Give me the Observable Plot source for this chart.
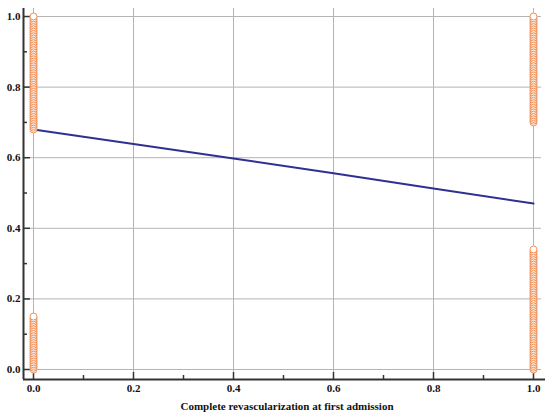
<!DOCTYPE html>
<html>
<head>
<meta charset="utf-8">
<script src="https://cdn.jsdelivr.net/npm/d3@7"></script>
<script src="https://cdn.jsdelivr.net/npm/@observablehq/plot@0.6"></script>
<style>
  html, body { margin: 0; padding: 0; background: #fff; }
</style>
</head>
<body>
<div id="chart"></div>
<script>
// Observed outcomes at x = 0 (incomplete revascularization)
const obsX0Upper = [0.68,0.685,0.69,0.695,0.70,0.705,0.71,0.715,0.72,0.725,0.73,0.735,0.74,0.745,0.75,0.755,0.76,0.765,0.77,0.775,0.78,0.785,0.79,0.795,0.80,0.805,0.81,0.815,0.82,0.825,0.83,0.835,0.84,0.845,0.85,0.855,0.86,0.865,0.87,0.875,0.88,0.885,0.89,0.895,0.90,0.905,0.91,0.915,0.92,0.925,0.93,0.935,0.94,0.945,0.95,0.955,0.96,0.965,0.97,0.975,0.98,0.985,0.99,0.995,1.0];
const obsX0Lower = [0,0.005,0.01,0.015,0.02,0.025,0.03,0.035,0.04,0.045,0.05,0.055,0.06,0.065,0.07,0.075,0.08,0.085,0.09,0.095,0.10,0.105,0.11,0.115,0.12,0.125,0.13,0.135,0.14,0.145,0.15];
// Observed outcomes at x = 1 (complete revascularization)
const obsX1Upper = [0.70,0.705,0.71,0.715,0.72,0.725,0.73,0.735,0.74,0.745,0.75,0.755,0.76,0.765,0.77,0.775,0.78,0.785,0.79,0.795,0.80,0.805,0.81,0.815,0.82,0.825,0.83,0.835,0.84,0.845,0.85,0.855,0.86,0.865,0.87,0.875,0.88,0.885,0.89,0.895,0.90,0.905,0.91,0.915,0.92,0.925,0.93,0.935,0.94,0.945,0.95,0.955,0.96,0.965,0.97,0.975,0.98,0.985,0.99,0.995,1.0];
const obsX1Lower = [0,0.005,0.01,0.015,0.02,0.025,0.03,0.035,0.04,0.045,0.05,0.055,0.06,0.065,0.07,0.075,0.08,0.085,0.09,0.095,0.10,0.105,0.11,0.115,0.12,0.125,0.13,0.135,0.14,0.145,0.15,0.155,0.16,0.165,0.17,0.175,0.18,0.185,0.19,0.195,0.20,0.205,0.21,0.215,0.22,0.225,0.23,0.235,0.24,0.245,0.25,0.255,0.26,0.265,0.27,0.275,0.28,0.285,0.29,0.295,0.30,0.305,0.31,0.315,0.32,0.325,0.33,0.335,0.34];

// Fitted regression line
const fitX = [0, 0.2, 0.4, 0.6, 0.8, 1.0];
const fitY = [0.68, 0.639, 0.598, 0.556, 0.513, 0.47];

// Tick values
const majorTicks = [0, 0.2, 0.4, 0.6, 0.8, 1.0];
const minorTicks = [0.1, 0.3, 0.5, 0.7, 0.9];

const xLabel = "Complete revascularization at first admission";

const points = [
  ...obsX0Upper.map(y => ({x: 0, y})),
  ...obsX0Lower.map(y => ({x: 0, y})),
  ...obsX1Upper.map(y => ({x: 1, y})),
  ...obsX1Lower.map(y => ({x: 1, y}))
];
const fit = fitX.map((x, i) => ({x, y: fitY[i]}));

const xMin = -0.02, xMax = 1.034;
const yMin = -0.0283, yMax = 1.0227;

const gridColor = "#b4b4b4";
const axisColor = "#333333";

const chart = Plot.plot({
  width: 550,
  height: 417,
  marginLeft: 23,
  marginRight: 0,
  marginTop: 8,
  marginBottom: 38,
  style: {fontFamily: "'Liberation Serif', serif", fontSize: "11px", fontWeight: "bold", color: "#222"},
  x: {domain: [xMin, xMax]},
  y: {domain: [yMin, yMax]},
  marks: [
    Plot.ruleX(majorTicks, {x: d => d, y1: yMin, y2: yMax, stroke: gridColor, strokeWidth: 1}),
    Plot.ruleY(majorTicks, {y: d => d, x1: xMin, x2: 1.016, stroke: gridColor, strokeWidth: 1}),
    Plot.ruleX([xMin], {y1: yMin, y2: yMax, stroke: axisColor, strokeWidth: 2}),
    Plot.ruleY([yMin], {x1: xMin, x2: 1.024, stroke: axisColor, strokeWidth: 2}),
    Plot.axisX({ticks: majorTicks, tickSize: -7, tickFormat: () => "", label: null, stroke: axisColor, strokeWidth: 1.5}),
    Plot.axisX({ticks: minorTicks, tickSize: -4, tickFormat: () => "", label: null, stroke: axisColor, strokeWidth: 1.5}),
    Plot.axisY({ticks: majorTicks, tickSize: -7, tickFormat: () => "", label: null, stroke: axisColor, strokeWidth: 1.5}),
    Plot.axisY({ticks: minorTicks, tickSize: -4, tickFormat: () => "", label: null, stroke: axisColor, strokeWidth: 1.5}),
    Plot.axisX({ticks: majorTicks, tickSize: 0, tickPadding: 5, tickFormat: d3.format(".1f"),
      label: xLabel, labelAnchor: "center", labelArrow: "none", labelOffset: 30, fill: "#111"}),
    Plot.axisY({ticks: majorTicks, tickSize: 0, tickPadding: 3, tickFormat: d3.format(".1f"), label: null, fill: "#111"}),
    Plot.line(fit, {x: "x", y: "y", stroke: "#2e3192", strokeWidth: 2}),
    Plot.dot(points, {x: "x", y: "y", r: 3.5, stroke: "#f09058", fill: "white", strokeWidth: 1})
  ]
});
document.getElementById("chart").appendChild(chart);
</script>
</body>
</html>
